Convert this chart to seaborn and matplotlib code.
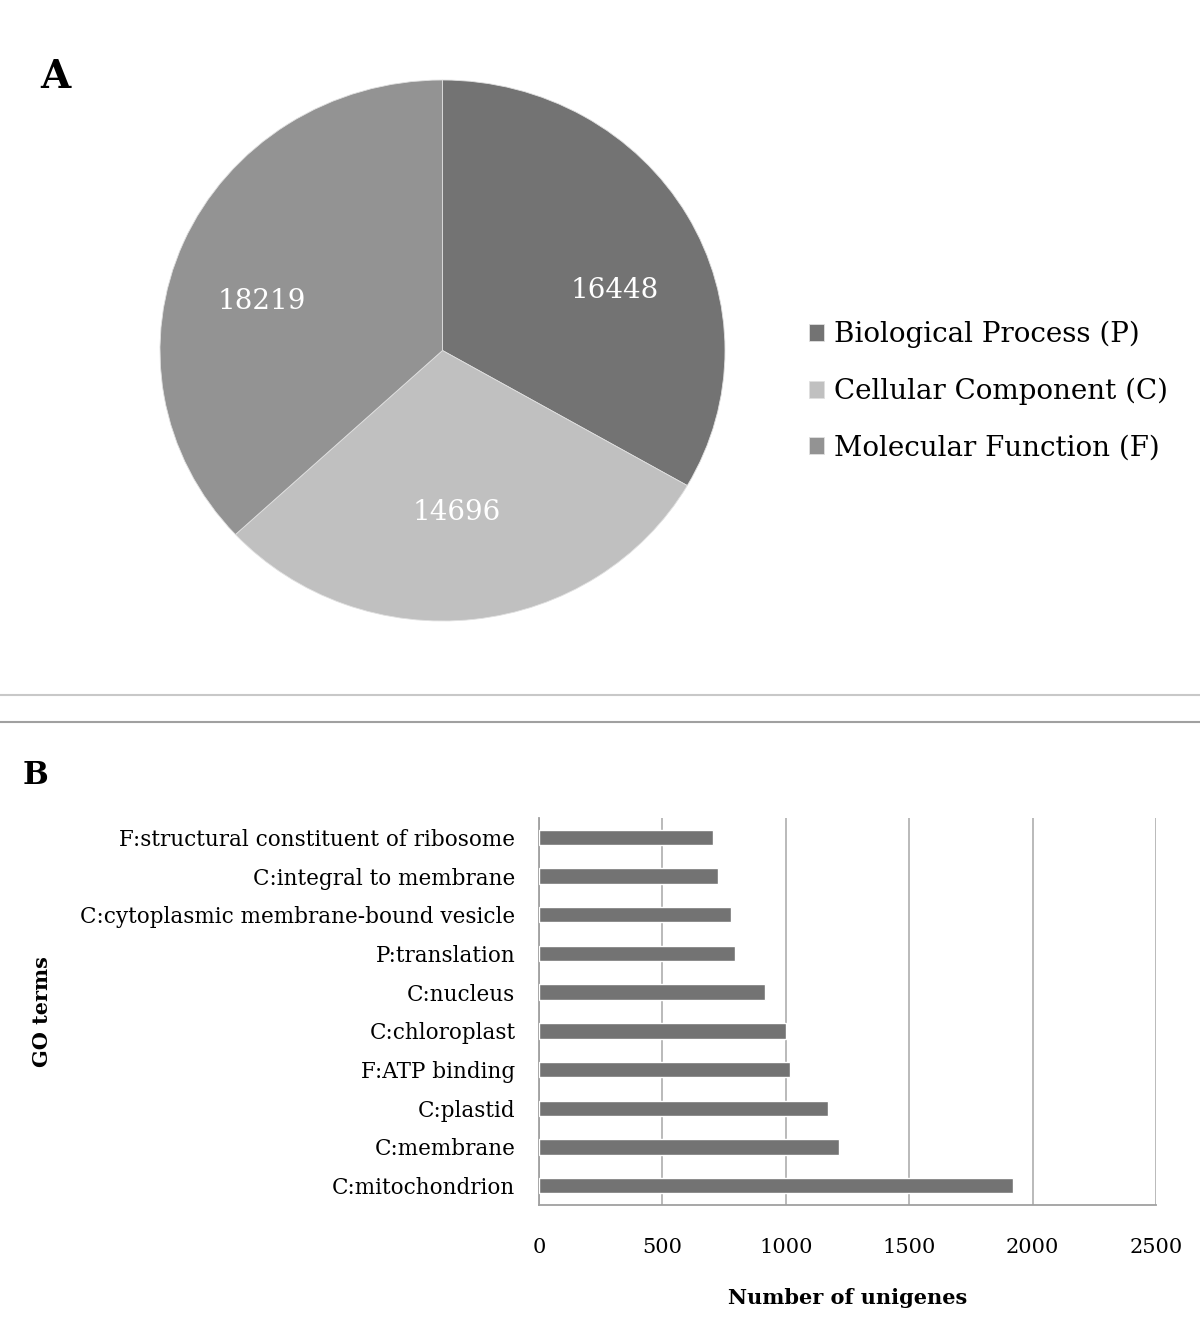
import numpy as np
import pandas as pd
import matplotlib.pyplot as plt
from matplotlib.lines import Line2D
import seaborn as sns

# Panel A: GO categories
go_categories = ["Biological Process (P)", "Cellular Component (C)", "Molecular Function (F)"]
go_counts = [16448, 14696, 18219]
go_colors = ["#737373", "#c0c0c0", "#939393"]

# Panel B: top GO terms
go_terms = [
    "F:structural constituent of ribosome",
    "C:integral to membrane",
    "C:cytoplasmic membrane-bound vesicle",
    "P:translation",
    "C:nucleus",
    "C:chloroplast",
    "F:ATP binding",
    "C:plastid",
    "C:membrane",
    "C:mitochondrion",
]
term_counts = [704, 726, 777, 796, 917, 999, 1016, 1171, 1215, 1921]
x_ticks = [0, 500, 1000, 1500, 2000, 2500]

sns.set_theme(style="white")
plt.rcParams["font.family"] = ["DejaVu Serif"]
plt.rcParams["text.color"] = "black"
plt.rcParams["xtick.color"] = "black"
plt.rcParams["ytick.color"] = "black"
plt.rcParams["axes.labelcolor"] = "black"

W, H = 1200, 1334
fig = plt.figure(figsize=(W / 100, H / 100), dpi=100)


def frac_box(left, top, right, bottom):
    return [left / W, 1 - bottom / H, (right - left) / W, (bottom - top) / H]


# ---- A: pie (slightly squashed, like the source image) ----
ax_pie = fig.add_axes(frac_box(160, 80, 725, 621))
wedges, _ = ax_pie.pie(
    go_counts,
    colors=go_colors,
    startangle=90,
    counterclock=False,
    radius=1.0,
    wedgeprops={"edgecolor": "#e0e0e0", "linewidth": 0.6},
)
ax_pie.set_xlim(-1, 1)
ax_pie.set_ylim(-1, 1)
ax_pie.set_aspect("auto")

# label positions relative to pie centre (Excel "best fit" style)
label_offsets = [(0.61, 0.22), (0.05, -0.60), (-0.64, 0.18)]
for (dx, dy), val in zip(label_offsets, go_counts):
    ax_pie.text(dx, dy, f"{val}", color="white", fontsize=20,
                ha="center", va="center")

fig.legend(
    wedges, go_categories,
    loc="upper left", bbox_to_anchor=(798 / W, 1 - 310 / H),
    frameon=False, fontsize=20, handlelength=0.55, handleheight=0.55,
    handletextpad=0.35, labelspacing=1.05, borderaxespad=0,
)

fig.text(55 / W, 1 - 77 / H, "A", fontsize=28, fontweight="bold",
         ha="center", va="center")

# separator lines
fig.add_artist(Line2D([0, 1], [1 - 695 / H, 1 - 695 / H], color="#c8c8c8", lw=1.5))
fig.add_artist(Line2D([0, 1], [1 - 722 / H, 1 - 722 / H], color="#a0a0a0", lw=1.5))

fig.text(35 / W, 1 - 775 / H, "B", fontsize=22, fontweight="bold",
         ha="center", va="center")

# ---- B: horizontal bars ----
ax_bar = fig.add_axes(frac_box(539, 818, 1156, 1205))
df = pd.DataFrame({"term": go_terms, "count": term_counts})
sns.barplot(data=df, x="count", y="term", orient="h", color="#737373",
            saturation=1, width=0.4, ax=ax_bar, zorder=3)

ax_bar.set_xlim(0, 2500)
ax_bar.set_xticks(x_ticks)
ax_bar.set_xticklabels([str(t) for t in x_ticks], fontsize=15)
ax_bar.xaxis.grid(True, color="#b4b4b4", linewidth=1.3, zorder=0)
ax_bar.yaxis.grid(False)
ax_bar.set_axisbelow(True)

# category boundary ticks on the y axis
ax_bar.set_yticks(np.arange(len(go_terms)))
ax_bar.set_yticklabels(go_terms, fontsize=15.5)
ax_bar.set_yticks(np.arange(len(go_terms) + 1) - 0.5, minor=True)
ax_bar.tick_params(axis="y", which="major", length=0, pad=17)
ax_bar.tick_params(axis="y", which="minor", length=6, width=1.2,
                   color="#a0a0a0", direction="out")
ax_bar.tick_params(axis="x", length=6, width=1.2, color="#a0a0a0",
                   direction="out", pad=18)
ax_bar.set_ylim(len(go_terms) - 0.5, -0.5)

for side in ["top", "right"]:
    ax_bar.spines[side].set_visible(False)
for side in ["left", "bottom"]:
    ax_bar.spines[side].set_color("#a0a0a0")
    ax_bar.spines[side].set_linewidth(1.3)

ax_bar.set_xlabel("Number of unigenes", fontsize=15, fontweight="bold", labelpad=22)
ax_bar.set_ylabel("")
fig.text(42 / W, 1 - 1012 / H, "GO terms", fontsize=15, fontweight="bold",
         rotation=90, ha="center", va="center")

fig.savefig("out.png", dpi=100, facecolor="white")
